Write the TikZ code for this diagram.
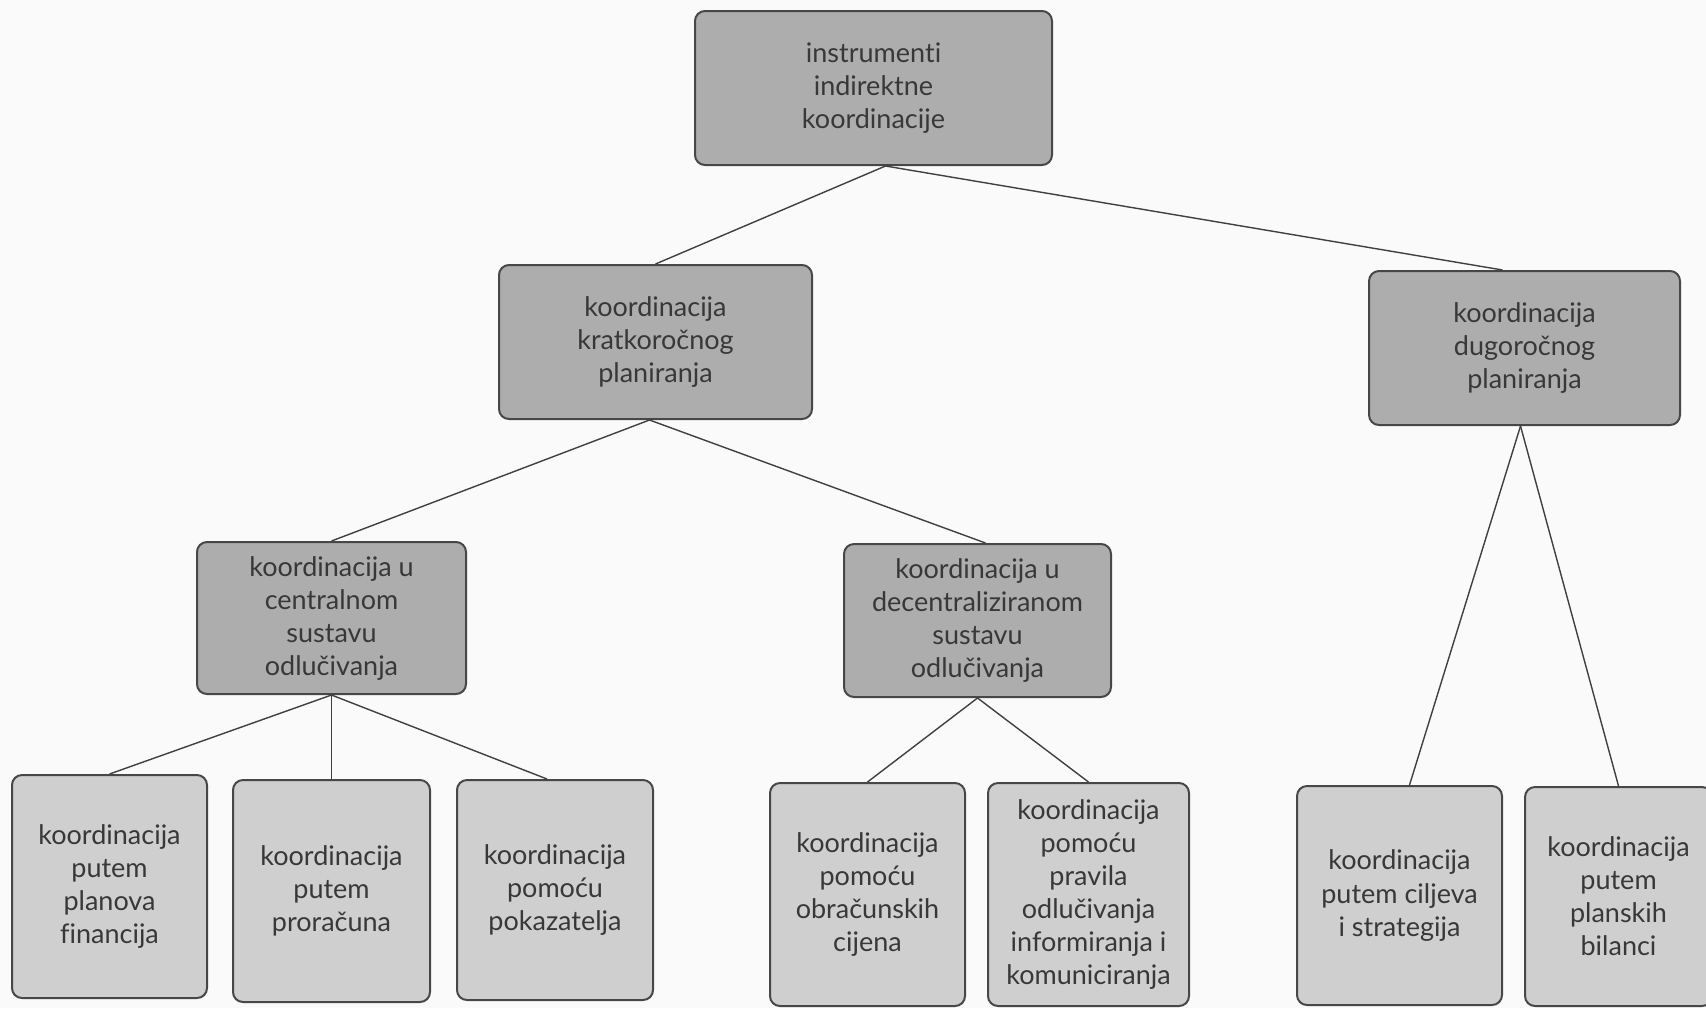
\documentclass[tikz,border=0pt]{standalone}
\usepackage{fontspec}
\setmainfont{Lato}[Ligatures=NoCommon]
\tikzset{
  upper/.style={draw=black!72, line width=1pt, fill=black!32, rounded corners=5pt,
    align=center, text=black!78, inner sep=0pt, font=\fontsize{13.5}{16.5}\selectfont},
  lower/.style={upper, fill=black!19},
  link/.style={draw=black!75, line width=0.7pt}
}
\begin{document}
\begin{tikzpicture}[x=0.5pt,y=-0.5pt]
\useasboundingbox [fill=black!2] (0,0) rectangle (1706,1008);

\node [upper, minimum width=178.5pt, minimum height=77pt] (top) at (873.5,88) {instrumenti\\indirektne\\koordinacije};
\node [upper, minimum width=156.5pt, minimum height=77pt] (kratko) at (655.5,342) {koordinacija\\kratkoročnog\\planiranja};
\node [upper, minimum width=155.5pt, minimum height=77pt] (dugo) at (1524.5,348) {koordinacija\\dugoročnog\\planiranja};
\node [upper, minimum width=134.5pt, minimum height=76pt] (central) at (331.5,618) {koordinacija u\\centralnom\\sustavu\\odlučivanja};
\node [upper, minimum width=133.5pt, minimum height=76.5pt] (decentral) at (977.5,620.5) {koordinacija u\\decentraliziranom\\sustavu\\odlučivanja};

\node [lower, minimum width=97.5pt, minimum height=111.5pt] (financ) at (109.5,886.5) {koordinacija\\putem\\planova\\financija};
\node [lower, minimum width=98.5pt, minimum height=111pt] (proracun) at (331.5,891) {koordinacija\\putem\\proračuna};
\node [lower, minimum width=98pt, minimum height=110pt] (pokaz) at (555,890) {koordinacija\\pomoću\\pokazatelja};
\node [lower, minimum width=97.5pt, minimum height=111.5pt] (cijene) at (867.5,894.5) {koordinacija\\pomoću\\obračunskih\\cijena};
\node [lower, minimum width=100.5pt, minimum height=111.5pt] (pravila) at (1088.5,894.5) {koordinacija\\pomoću\\pravila\\odlučivanja\\informiranja i\\komuniciranja};
\node [lower, minimum width=102.5pt, minimum height=109.5pt] (ciljevi) at (1399.5,895.5) {koordinacija\\putem ciljeva\\i strategija};
\node [lower, minimum width=93.5pt, minimum height=109.5pt] (bilanci) at (1618.5,896.5) {koordinacija\\putem\\planskih\\bilanci};

% veze
\draw [link] ([xshift=6pt]top.south) -- (kratko.north);
\draw [link] ([xshift=6pt]top.south) -- ([xshift=-11pt]dugo.north);
\draw [link] ([xshift=-3pt]kratko.south) -- (central.north);
\draw [link] ([xshift=-3pt]kratko.south) -- ([xshift=4pt]decentral.north);
\draw [link] (central.south) -- (financ.north);
\draw [link] (central.south) -- (proracun.north);
\draw [link] (central.south) -- ([xshift=-4pt]pokaz.north);
\draw [link] (decentral.south) -- (cijene.north);
\draw [link] (decentral.south) -- (pravila.north);
\draw [link] ([xshift=-2pt]dugo.south) -- ([xshift=5pt]ciljevi.north);
\draw [link] ([xshift=-2pt]dugo.south) -- (bilanci.north);
\end{tikzpicture}
\end{document}
